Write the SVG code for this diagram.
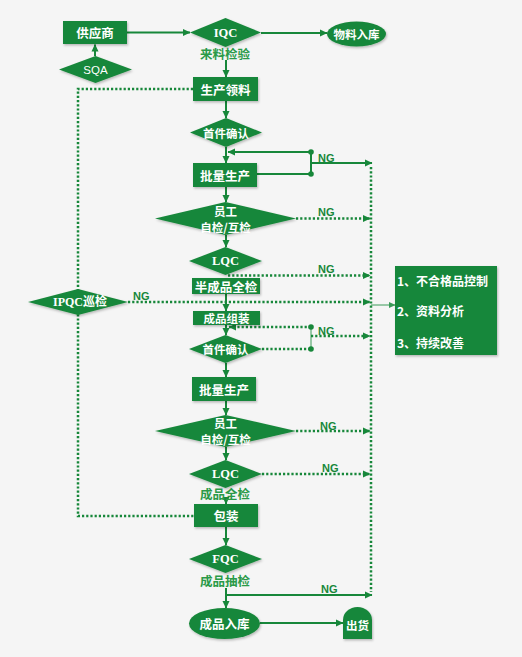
<svg xmlns="http://www.w3.org/2000/svg" width="522" height="657" viewBox="0 0 522 657">
<defs>
<marker id="ah" markerWidth="8" markerHeight="8" refX="7" refY="4" orient="auto" markerUnits="userSpaceOnUse">
<path d="M0,0.5 L7.5,4 L0,7.5 Z" fill="#17873a"/>
</marker>
<marker id="ahs" markerWidth="7" markerHeight="7" refX="6" refY="3.5" orient="auto" markerUnits="userSpaceOnUse">
<path d="M0,0.5 L6.5,3.5 L0,6.5 Z" fill="#3a9a58"/>
</marker>
<filter id="sh" x="-10%" y="-10%" width="125%" height="135%">
<feDropShadow dx="1" dy="1.5" stdDeviation="1.2" flood-color="#000" flood-opacity="0.25"/>
</filter>
</defs>
<style>
.n{fill:#17873a;filter:url(#sh);}
.t{fill:#fff;font-family:"Noto Sans CJK SC","Noto Sans",sans-serif;font-weight:bold;font-size:12.5px;text-anchor:middle;dominant-baseline:central;}
.ts{fill:#fff;font-family:"Noto Sans CJK SC","Noto Sans",sans-serif;font-weight:bold;font-size:11.5px;text-anchor:middle;dominant-baseline:central;}
.tq{fill:#fff;font-family:"Liberation Serif","Noto Sans CJK SC",serif;font-weight:bold;font-size:12.5px;text-anchor:middle;dominant-baseline:central;}
.tg{fill:#2a9a48;font-family:"Noto Sans CJK SC","Noto Sans",sans-serif;font-weight:bold;font-size:12.5px;text-anchor:middle;dominant-baseline:central;}
.ng{fill:#17873a;font-family:"Liberation Sans",Arial,sans-serif;font-weight:bold;font-size:11px;}
.tl{fill:#fff;font-family:"Noto Sans CJK SC","Noto Sans",sans-serif;font-weight:bold;font-size:12px;dominant-baseline:central;}
.s{stroke:#17873a;stroke-width:2;fill:none;}
.d{stroke:#17873a;stroke-width:2.5;fill:none;stroke-dasharray:2.2 2;}
.th{stroke:#3a9a58;stroke-width:1;fill:none;}
.dot{fill:#17873a;}
</style>
<rect width="522" height="657" fill="#f5f5f5"/>

<g id="connectors">
<line class="s" x1="127" y1="32.5" x2="190" y2="32.5" marker-end="url(#ah)"/>
<line class="s" x1="95" y1="56" x2="95" y2="44.5" marker-end="url(#ah)"/>
<line class="s" x1="261" y1="33" x2="327" y2="33" marker-end="url(#ah)"/>
<line class="s" x1="226" y1="60" x2="226" y2="77" marker-end="url(#ah)"/>
<line class="s" x1="226" y1="101" x2="226" y2="118" marker-end="url(#ah)"/>
<line class="s" x1="226" y1="147" x2="226" y2="163" marker-end="url(#ah)"/>
<polyline class="s" points="257,174 311,174 311,152 228,152" marker-end="url(#ah)"/>
<circle class="dot" cx="311" cy="174" r="2.8"/>
<circle class="dot" cx="311" cy="152" r="2.8"/>
<line class="s" x1="311" y1="163" x2="372" y2="163" marker-end="url(#ah)"/>
<line class="s" x1="226" y1="187" x2="226" y2="202" marker-end="url(#ah)"/>
<line class="d" x1="296" y1="218.5" x2="370" y2="218.5" marker-end="url(#ah)"/>
<line class="s" x1="226" y1="235" x2="226" y2="247" marker-end="url(#ah)"/>
<line class="d" x1="228" y1="275.5" x2="370" y2="275.5" marker-end="url(#ah)"/>
<line class="s" x1="226" y1="294" x2="226" y2="311" marker-end="url(#ah)"/>
<line class="d" x1="128" y1="302" x2="370" y2="302" marker-end="url(#ah)"/>
<line class="s" x1="226" y1="324" x2="226" y2="335" marker-end="url(#ah)"/>
<line class="d" x1="262" y1="349" x2="311" y2="349"/>
<line class="th" x1="311" y1="349" x2="311" y2="327"/>
<line class="d" x1="311" y1="327" x2="229" y2="327" marker-end="url(#ah)"/>
<circle class="dot" cx="311" cy="349" r="2.8"/>
<circle class="dot" cx="311" cy="327" r="2.8"/>
<line class="d" x1="311" y1="336" x2="370" y2="336" marker-end="url(#ah)"/>
<line class="s" x1="226" y1="363" x2="226" y2="377" marker-end="url(#ah)"/>
<line class="s" x1="226" y1="401" x2="226" y2="415" marker-end="url(#ah)"/>
<line class="d" x1="296" y1="431" x2="370" y2="431" marker-end="url(#ah)"/>
<line class="s" x1="226" y1="447" x2="226" y2="460" marker-end="url(#ah)"/>
<line class="d" x1="262" y1="474" x2="370" y2="474" marker-end="url(#ah)"/>
<line class="s" x1="226" y1="498" x2="226" y2="504" marker-end="url(#ah)"/>
<line class="s" x1="226" y1="527" x2="226" y2="545" marker-end="url(#ah)"/>
<line class="s" x1="226" y1="588" x2="226" y2="608" marker-end="url(#ah)"/>
<line class="s" x1="226" y1="595" x2="372" y2="595" marker-end="url(#ah)"/>
<line class="s" x1="260" y1="623" x2="343" y2="623" marker-end="url(#ah)"/>
<polyline class="d" points="193,89 78,89 78,516 194,516"/>
<line class="d" x1="371" y1="167" x2="371" y2="592"/>
<line class="th" x1="371" y1="305" x2="395" y2="305" marker-end="url(#ahs)"/>
<text class="ng" x="318" y="162">NG</text>
<text class="ng" x="318" y="216">NG</text>
<text class="ng" x="318" y="273">NG</text>
<text class="ng" x="133" y="300">NG</text>
<text class="ng" x="318" y="335">NG</text>
<text class="ng" x="320" y="430">NG</text>
<text class="ng" x="322" y="472">NG</text>
<text class="ng" x="321" y="593">NG</text>
</g>

<g id="supplier"><rect class="n" x="63" y="21" width="64" height="23"/><text class="t" x="95" y="32.5">供应商</text></g>
<g id="sqa"><polygon class="n" points="59,69.5 95.5,56 132,69.5 95.5,83"/><text class="ts" x="95.5" y="69.5" font-family="Liberation Sans" style="font-weight:normal;font-family:'Liberation Sans',sans-serif">SQA</text></g>
<g id="iqc"><polygon class="n" points="190,32.5 225.5,18 261,32.5 225.5,47"/><text class="tq" x="225.5" y="32.5">IQC</text><text class="tg" x="225" y="53">来料检验</text></g>
<g id="stock-in"><ellipse class="n" cx="356.5" cy="34" rx="29.5" ry="12.5"/><text class="ts" x="356.5" y="34">物料入库</text></g>
<g id="material"><rect class="n" x="193" y="77" width="65" height="24"/><text class="t" x="225.5" y="89">生产领料</text></g>
<g id="first1"><polygon class="n" points="190,132.5 226,118 262,132.5 226,147"/><text class="ts" x="226" y="132.5">首件确认</text></g>
<g id="batch1"><rect class="n" x="193" y="163" width="64" height="24"/><text class="t" x="225" y="175">批量生产</text></g>
<g id="self1"><polygon class="n" points="155,218.5 225.5,202 296,218.5 225.5,235"/><text class="ts" x="225.5" y="210.5">员工</text><text class="ts" x="225.5" y="226.5">自检/互检</text></g>
<g id="lqc1"><polygon class="n" points="189,261 225.5,247 262,261 225.5,275"/><text class="tq" x="225.5" y="261">LQC</text></g>
<g id="semi"><rect class="n" x="192" y="278" width="68" height="16"/><text class="t" x="226" y="286">半成品全检</text></g>
<g id="ipqc"><polygon class="n" points="28,302 78,289 128,302 78,315"/><text class="tq" x="80" y="302" style="font-size:12px">IPQC巡检</text></g>
<g id="actions"><rect class="n" x="395" y="266" width="102" height="89"/><text class="tl" x="397" y="280">1、不合格品控制</text><text class="tl" x="397" y="310">2、资料分析</text><text class="tl" x="397" y="342">3、持续改善</text></g>
<g id="assembly"><rect class="n" x="193" y="311" width="67" height="14"/><text class="ts" x="226.5" y="318">成品组装</text></g>
<g id="first2"><polygon class="n" points="189,349 225.5,335 262,349 225.5,363"/><text class="ts" x="225.5" y="349">首件确认</text></g>
<g id="batch2"><rect class="n" x="192" y="377" width="64" height="24"/><text class="t" x="224" y="389">批量生产</text></g>
<g id="self2"><polygon class="n" points="155,431 225.5,415 296,431 225.5,447"/><text class="ts" x="225.5" y="423">员工</text><text class="ts" x="225.5" y="439">自检/互检</text></g>
<g id="lqc2"><polygon class="n" points="189,474 225.5,460 262,474 225.5,488"/><text class="tq" x="225.5" y="474">LQC</text><text class="tg" x="225" y="493">成品全检</text></g>
<g id="pack"><rect class="n" x="194" y="504" width="64" height="23"/><text class="t" x="226" y="515.5">包装</text></g>
<g id="fqc"><polygon class="n" points="189,559 225.5,545 262,559 225.5,573"/><text class="tq" x="225.5" y="559">FQC</text><text class="tg" x="225" y="580">成品抽检</text></g>
<g id="warehouse"><ellipse class="n" cx="224.5" cy="623.5" rx="35.5" ry="15.5"/><text class="t" x="224.5" y="623.5">成品入库</text></g>
<g id="ship"><path class="n" d="M343,639 V620 A14.5,13 0 0 1 372,620 V639 Z"/><text class="ts" x="357.5" y="625">出货</text></g>
</svg>
